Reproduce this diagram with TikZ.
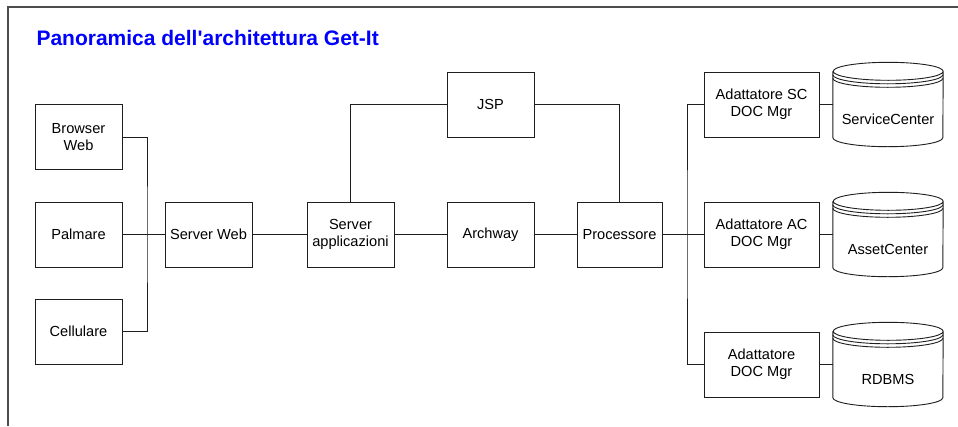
\documentclass[tikz,border=0pt]{standalone}
\usepackage{fontspec}
\setmainfont{Liberation Sans}
\newfontfamily\titlefont{Liberation Sans}
\usetikzlibrary{calc}
\definecolor{titleblue}{RGB}{0,0,255}
\definecolor{ink}{RGB}{30,30,30}
\tikzset{
  box/.style={draw=ink, line width=0.9pt, minimum height=65pt, inner sep=0pt,
    align=center, font=\fontsize{14.6}{17}\selectfont},
  smallbox/.style={box, minimum width=87pt},
  adbox/.style={box, minimum width=115pt},
  dbnode/.style={minimum width=110pt, minimum height=84pt, inner sep=0pt,
    font=\fontsize{14.6}{17}\selectfont},
  wire/.style={draw=ink, line width=0.9pt},
  frame/.style={draw=black!70, line width=1.6pt}
}
\newcommand{\dbcyl}[1]{%
  \draw[wire] ([yshift=-9pt]#1.north west) -- ([yshift=9pt]#1.south west)
    arc[start angle=180, end angle=360, x radius=55pt, y radius=9pt]
    -- ([yshift=-9pt]#1.north east)
    arc[start angle=0, end angle=360, x radius=55pt, y radius=9pt];
  \draw[wire] ([yshift=-12.5pt]#1.north west)
    arc[start angle=180, end angle=360, x radius=55pt, y radius=9pt];
  \draw[wire] ([yshift=-16pt]#1.north west)
    arc[start angle=180, end angle=360, x radius=55pt, y radius=9pt];
}
\newcommand{\dbtext}[1]{\raisebox{-20pt}[0pt][0pt]{#1}}
\begin{document}
\begin{tikzpicture}[x=1pt,y=1pt]
\useasboundingbox (0,0) rectangle (958,-426);
\fill[white] (0,0) rectangle (958,-426);
\draw[frame] (8,-426) -- (8,-7) -- (958,-7);
\node[anchor=base west, text=titleblue, font=\titlefont\fontsize{21}{25}\selectfont\bfseries] (title) at (33,-45) {Panoramica dell'architettura Get-It};

\node[smallbox] (browser) at (78.5,-137) {Browser\\Web};
\node[smallbox] (palmare) at (78.5,-234.5) {Palmare};
\node[smallbox] (cellulare) at (78.5,-331.5) {Cellulare};
\node[smallbox] (serverweb) at (208.5,-234.5) {Server Web};
\node[smallbox] (serverapp) at (350.5,-234.5) {Server\\applicazioni};
\node[smallbox] (jsp) at (490.5,-104.5) {JSP};
\node[smallbox] (archway) at (490.5,-234.5) {Archway};
\node[smallbox, minimum width=85pt] (proc) at (619.5,-234.5) {Processore};
\node[adbox] (adsc) at (761.5,-104.5) {Adattatore SC\\DOC Mgr};
\node[adbox] (adac) at (761.5,-234.5) {Adattatore AC\\DOC Mgr};
\node[adbox] (adrd) at (761.5,-364.5) {Adattatore\\DOC Mgr};

\node[dbnode] (sc) at (888,-104.5) {\dbtext{ServiceCenter}};
\node[dbnode] (ac) at (888,-234.5) {\dbtext{AssetCenter}};
\node[dbnode] (rd) at (888,-364.5) {\dbtext{RDBMS}};
\dbcyl{sc}
\dbcyl{ac}
\dbcyl{rd}

\coordinate (busL) at (147,-234.5);
\coordinate (busR) at (687,-234.5);

\draw[wire] (browser.east) -| (busL) |- (cellulare.east);
\draw[wire] (palmare) -- (serverweb);
\draw[wire] (serverweb) -- (serverapp);
\draw[wire] (serverapp) -- (archway);
\draw[wire] (archway) -- (proc);
\draw[wire] (serverapp.north) |- (jsp.west);
\draw[wire] (jsp.east) -| (proc.north);
\draw[wire] (proc) -- (adac);
\draw[wire] (adsc.west) -| (busR) |- (adrd.west);
\draw[wire] (adsc) -- (sc);
\draw[wire] (adac) -- (ac);
\draw[wire] (adrd) -- (rd);
\end{tikzpicture}
\end{document}
